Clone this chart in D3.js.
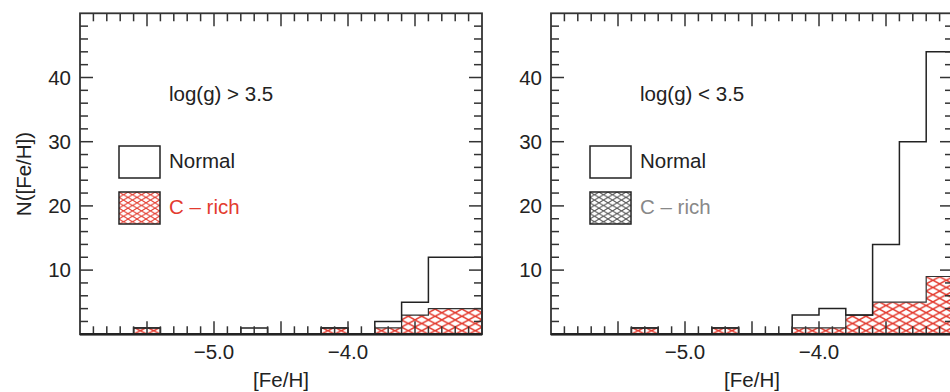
<!DOCTYPE html>
<html>
<head>
<meta charset="utf-8">
<script src="https://cdn.jsdelivr.net/npm/d3@7"></script>
<style>
  body { margin: 0; background: #fff; }
  svg { display: block; font-family: "Liberation Sans", Arial, Helvetica, sans-serif; }
</style>
</head>
<body>
<script>
// bin lower edges, 0.2 dex wide
var binLo = [-6.0, -5.8, -5.6, -5.4, -5.2, -5.0, -4.8, -4.6, -4.4, -4.2, -4.0, -3.8, -3.6, -3.4, -3.2];
var binWidth = 0.2;

// dwarfs, log(g) > 3.5
var dwarfAll   = [0, 0, 1, 0, 0, 0, 1, 0, 0, 1, 0, 2, 5, 12, 12];
var dwarfCrich = [0, 0, 1, 0, 0, 0, 0, 0, 0, 1, 0, 1, 3, 4, 4];
// giants, log(g) < 3.5
var giantAll   = [0, 0, 0, 1, 0, 0, 1, 0, 0, 3, 4, 3, 14, 30, 44];
var giantCrich = [0, 0, 0, 1, 0, 0, 1, 0, 0, 1, 1, 3, 5, 5, 9];

var panelTitles = ["log(g) > 3.5", "log(g) < 3.5"];
var legendNames = ["Normal", "C \u2013 rich"];
var xTickVals = [-5.0, -4.0];
var xTickLabels = ["\u22125.0", "\u22124.0"];
var yTickVals = [10, 20, 30, 40];

var W = 950, H = 392;
var red = "#e33b2f";
var ink = "#222";
var fs = 20.5;

var svg = d3.select("body").append("svg")
    .attr("width", W)
    .attr("height", H);
var defs = svg.append("defs");

// cross hatch patterns (diamond lattice)
function hatch(id, col, w, h, ox, oy, sw) {
    var p = defs.append("pattern")
        .attr("id", id)
        .attr("patternUnits", "userSpaceOnUse")
        .attr("patternTransform", "translate(" + ox + "," + oy + ")")
        .attr("width", w)
        .attr("height", h);
    p.append("path")
        .attr("d", "M" + (-w / 2) + "," + (-h / 2) + "L" + (w * 1.5) + "," + (h * 1.5) +
                   "M" + (-w / 2) + "," + (h * 1.5) + "L" + (w * 1.5) + "," + (-h / 2))
        .attr("stroke", col)
        .attr("stroke-width", sw)
        .attr("fill", "none");
}

function panel(idx, left, all, crich, title, legendCol, legendHatchCol) {
    var x = d3.scaleLinear().domain([-6, -3]).range([left, left + 402]);
    var y = d3.scaleLinear().domain([0, 50]).range([334.3, 13.3]);
    var g = svg.append("g");

    var bw = x(-6 + binWidth) - x(-6);
    hatch("hist" + idx, red, bw / 2, 7.2, x(-6), y(0), 1.4);
    hatch("leg" + idx, legendHatchCol, 9, 5.4, left + 39, 192, 1);

    function pts(counts) {
        var p = [[binLo[0], 0]];
        counts.forEach(function (c, i) { p.push([binLo[i], c]); });
        p.push([binLo[binLo.length - 1] + binWidth, counts[counts.length - 1]]);
        p.push([binLo[binLo.length - 1] + binWidth, 0]);
        return p;
    }

    var area = d3.area().curve(d3.curveStepAfter)
        .x(function (d) { return x(d[0]); })
        .y0(y(0))
        .y1(function (d) { return y(d[1]); });
    var line = d3.line().curve(d3.curveStepAfter)
        .x(function (d) { return x(d[0]); })
        .y(function (d) { return y(d[1]); });

    // C-rich hatched histogram
    g.append("path")
        .attr("d", area(pts(crich)))
        .attr("fill", "url(#hist" + idx + ")");
    g.append("path")
        .attr("d", line(pts(crich)))
        .attr("fill", "none")
        .attr("stroke", "#333")
        .attr("stroke-width", 1.2);
    // all stars outline
    g.append("path")
        .attr("d", line(pts(all)))
        .attr("fill", "none")
        .attr("stroke", ink)
        .attr("stroke-width", 1.5);

    // ticks
    var xMinor = d3.range(-59, -30).map(function (d) { return d / 10; });
    xMinor.forEach(function (v) {
        var major = Math.abs(v * 2 - Math.round(v * 2)) < 1e-6;
        var len = major ? 13 : 8;
        [y(0), y(50)].forEach(function (yy, k) {
            g.append("line")
                .attr("x1", x(v)).attr("x2", x(v))
                .attr("y1", yy).attr("y2", k === 0 ? yy - len : yy + len)
                .attr("stroke", "#333").attr("stroke-width", 1.5);
        });
    });
    d3.range(2, 50, 2).forEach(function (v) {
        var len = v % 10 === 0 ? 13 : 8;
        [x(-6), x(-3)].forEach(function (xx, k) {
            g.append("line")
                .attr("y1", y(v)).attr("y2", y(v))
                .attr("x1", xx).attr("x2", k === 0 ? xx + len : xx - len)
                .attr("stroke", "#333").attr("stroke-width", 1.5);
        });
    });

    // frame
    g.append("rect")
        .attr("x", x(-6)).attr("y", y(50))
        .attr("width", x(-3) - x(-6)).attr("height", y(0) - y(50))
        .attr("fill", "none")
        .attr("stroke", "#333")
        .attr("stroke-width", 1.8);
    g.append("line")
        .attr("x1", x(-6)).attr("x2", x(-3))
        .attr("y1", y(0)).attr("y2", y(0))
        .attr("stroke", ink).attr("stroke-width", 2.4);

    // tick labels
    g.selectAll(".xl").data(xTickVals).enter().append("text")
        .attr("x", function (d) { return x(d); })
        .attr("y", 359)
        .attr("text-anchor", "middle")
        .attr("font-size", fs)
        .attr("fill", ink)
        .text(function (d, i) { return xTickLabels[i]; });
    g.selectAll(".yl").data(yTickVals).enter().append("text")
        .attr("x", x(-6) - 9)
        .attr("y", function (d) { return y(d) + 7; })
        .attr("text-anchor", "end")
        .attr("font-size", fs)
        .attr("fill", ink)
        .text(function (d) { return d; });

    g.append("text")
        .attr("x", (x(-6) + x(-3)) / 2)
        .attr("y", 387)
        .attr("text-anchor", "middle")
        .attr("font-size", fs)
        .attr("fill", ink)
        .text("[Fe/H]");

    // annotation and legend
    g.append("text")
        .attr("x", left + 89).attr("y", 101)
        .attr("font-size", fs).attr("fill", ink)
        .text(title);
    g.append("rect")
        .attr("x", left + 39).attr("y", 146)
        .attr("width", 41).attr("height", 32)
        .attr("fill", "none").attr("stroke", ink).attr("stroke-width", 1.5);
    g.append("text")
        .attr("x", left + 89).attr("y", 168)
        .attr("font-size", fs).attr("fill", ink)
        .text(legendNames[0]);
    g.append("rect")
        .attr("x", left + 39).attr("y", 192)
        .attr("width", 41).attr("height", 32)
        .attr("fill", "url(#leg" + idx + ")").attr("stroke", ink).attr("stroke-width", 1.5);
    g.append("text")
        .attr("x", left + 89).attr("y", 214)
        .attr("font-size", fs).attr("fill", legendCol)
        .text(legendNames[1]);
}

panel(0, 80, dwarfAll, dwarfCrich, panelTitles[0], red, red);
panel(1, 551, giantAll, giantCrich, panelTitles[1], "#888", "#555");

// y axis title
svg.append("text")
    .attr("transform", "translate(31,174) rotate(-90)")
    .attr("text-anchor", "middle")
    .attr("font-size", fs)
    .attr("fill", ink)
    .text("N([Fe/H])");
</script>
</body>
</html>
